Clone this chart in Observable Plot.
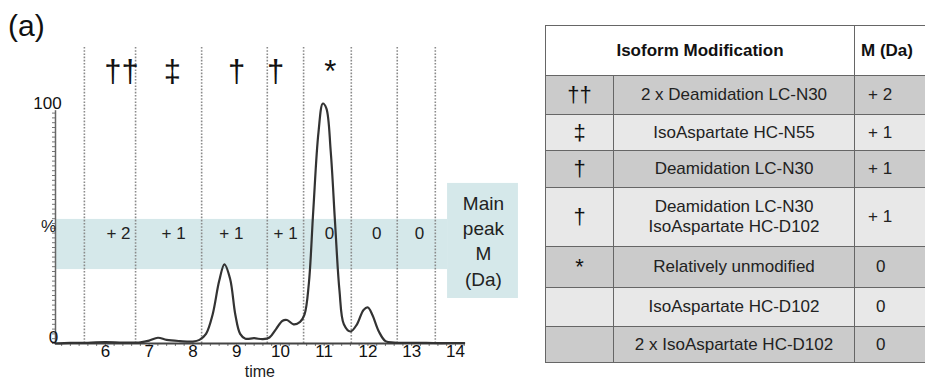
<!DOCTYPE html>
<html>
<head>
<meta charset="utf-8">
<script src="https://cdn.jsdelivr.net/npm/d3@7"></script>
<script src="https://cdn.jsdelivr.net/npm/@observablehq/plot@0.6"></script>
<style>
  html, body { margin: 0; padding: 0; background: #fff; }
  body { width: 925px; height: 382px; position: relative; overflow: hidden; font-family: "Liberation Sans", Arial, sans-serif; }
  #panel { position: absolute; left: 8px; top: 9px; font-size: 30px; line-height: 34px; color: #111; z-index: 2; }
  #chart { position: absolute; left: 0; top: 0; }
  #tbl { position: absolute; left: 545px; top: 25px; border-collapse: collapse; table-layout: fixed; width: 390px; font-size: 17px; color: #222; }
  #tbl td, #tbl th { border: 1.5px solid #666; padding: 0; text-align: center; vertical-align: middle; line-height: 20px; }
  #tbl th { background: #fff; font-weight: bold; font-size: 17px; color: #111; }
  #tbl tr.dark td { background: #cbcbcb; }
  #tbl tr.light td { background: #e8e8e8; }
  #tbl td.sym { font-size: 22px; color: #111; }
  #tbl td.m { text-align: left; padding-left: 13px; }
  #tbl td.m.zero { padding-left: 21px; }
</style>
</head>
<body>
<div id="panel">(a)</div>
<div id="chart"></div>
<table id="tbl"></table>
<script>
// Chromatogram trace (time in min, relative intensity in %)
const time = [4.86, 5.2, 5.6, 6.0, 6.4, 6.8, 7.0, 7.2, 7.4, 7.7, 8.0, 8.15, 8.3, 8.45, 8.6, 8.72, 8.85, 8.97, 9.08, 9.2, 9.4, 9.6, 9.75, 9.9, 10.05, 10.15, 10.3, 10.45, 10.55, 10.65, 10.75, 10.87, 10.97, 11.05, 11.15, 11.25, 11.35, 11.45, 11.6, 11.75, 11.9, 12.0, 12.1, 12.25, 12.4, 12.6, 13.0, 13.5, 14.0, 14.2];
const intensity = [0, 0.3, 0.3, 0.6, 0.4, 0.5, 1.2, 2.4, 1.5, 1.0, 0.8, 1.5, 4, 12, 26, 33, 27, 12, 4, 2, 2.2, 1.8, 2.5, 6, 9.5, 9.8, 8, 9, 12, 25, 55, 88, 100, 98, 80, 50, 22, 8, 5, 8, 14, 15, 12, 5, 1, 0.4, 0.3, 0.2, 0.2, 0.2];

// Fraction boundaries (dotted lines)
const boundaries = [5.52, 6.69, 8.2, 9.7, 10.53, 11.62, 12.67, 13.54];

// Peak symbols above the trace
const peakSymbols = ["††", "‡", "†", "†", "*"];
const symbolTimes = [6.37, 7.53, 9.0, 9.89, 11.14];

// Main peak mass shift per fraction
const massLabels = ["+ 2", "+ 1", "+ 1", "+ 1", "0", "0", "0"];
const massTimes = [6.3, 7.56, 8.88, 10.12, 11.12, 12.2, 13.18];

// Axis ticks
const xTicks = [6, 7, 8, 9, 10, 11, 12, 13, 14];

// Table
const tableSymbols = ["††", "‡", "†", "†", "*", "", ""];
const tableMods = ["2 x Deamidation LC-N30", "IsoAspartate HC-N55", "Deamidation LC-N30", "Deamidation LC-N30\nIsoAspartate HC-D102", "Relatively unmodified", "IsoAspartate HC-D102", "2 x IsoAspartate HC-D102"];
const tableMass = ["+ 2", "+ 1", "+ 1", "+ 1", "0", "0", "0"];

const trace = time.map((t, i) => ({t, v: intensity[i]}));
const symData = peakSymbols.map((s, i) => ({s, t: symbolTimes[i]}));
const massData = massLabels.map((s, i) => ({s, t: massTimes[i]}));

const X0 = 4.86, X1 = 14.23;
const band = "#d5e8ea";

const chart = Plot.plot({
  width: 530,
  height: 382,
  marginLeft: 55,
  marginRight: 65,
  marginTop: 103,
  marginBottom: 39,
  x: {domain: [X0, X1]},
  y: {domain: [0, 100]},
  style: {fontFamily: "Liberation Sans, Arial, sans-serif", overflow: "visible", background: "transparent", color: "#222"},
  marks: [
    Plot.rect([0], {x1: X0, x2: 13.82, y1: 30.8, y2: 51.7, fill: band}),
    Plot.rect([0], {x1: 13.82, x2: 15.44, y1: 18.75, y2: 66.7, fill: band}),
    Plot.text([0], {x: 14.64, y: 43.3, text: () => "Main\npeak\nM\n(Da)", fontSize: 19, lineHeight: 1.33, fill: "#222"}),
    Plot.ruleX(boundaries, {x: d => d, y1: 0, y2: 124, stroke: "#8a8a8a", strokeWidth: 1.6, strokeDasharray: "1.6,1.6"}),
    Plot.axisY({ticks: d3.range(0, 98, 2), tickSize: 3, tickFormat: () => "", label: null, stroke: "#777"}),
    Plot.ruleX([X0], {y1: 0, y2: 97, stroke: "#666", strokeWidth: 1.5}),
    Plot.axisX({ticks: d3.range(25, 72).map(i => i / 5), tickSize: 3, tickFormat: () => "", label: null, stroke: "#777"}),
    Plot.axisX({ticks: xTicks, tickSize: 0, tickPadding: 1, fontSize: 17, label: null, fill: "#111"}),
    Plot.ruleY([0], {x1: X0, x2: X1, stroke: "#444", strokeWidth: 2}),
    Plot.line(trace, {x: "t", y: "v", curve: "catmull-rom", stroke: "#333", strokeWidth: 2.2}),
    Plot.text(symData, {x: "t", y: 112.9, text: "s", fontSize: 31, fill: "#111"}),
    Plot.text(massData, {x: "t", y: 45.8, text: "s", fontSize: 17, fill: "#222"}),
    Plot.text([0], {x: X0, y: 100, text: () => "100", fontSize: 17, dx: -8, fill: "#111"}),
    Plot.text([0], {x: X0, y: 2.5, text: () => "0", fontSize: 17, dx: -2, fill: "#111"}),
    Plot.text([0], {x: X0, y: 48.75, text: () => "%", fontSize: 17, dx: -7, fill: "#222"}),
    Plot.text([0], {x: 9.53, y: -12, text: () => "time", fontSize: 16, fill: "#222"})
  ]
});
document.getElementById("chart").appendChild(chart);

// Build table
const tbl = document.getElementById("tbl");
const cg = document.createElement("colgroup");
[68, 241, 81].forEach(w => { const c = document.createElement("col"); c.style.width = w + "px"; cg.appendChild(c); });
tbl.appendChild(cg);
const hr = document.createElement("tr");
hr.style.height = "50px";
const h1 = document.createElement("th"); h1.colSpan = 2; h1.textContent = "Isoform Modification";
const h2 = document.createElement("th"); h2.textContent = "M (Da)"; h2.style.textAlign = "left"; h2.style.paddingLeft = "6px";
hr.appendChild(h1); hr.appendChild(h2); tbl.appendChild(hr);
const rowHeights = [39, 36, 37, 59, 41, 39, 36];
tableMods.forEach((m, i) => {
  const tr = document.createElement("tr");
  tr.className = i % 2 === 0 ? "dark" : "light";
  tr.style.height = rowHeights[i] + "px";
  const a = document.createElement("td"); a.className = "sym"; a.textContent = tableSymbols[i];
  const b = document.createElement("td"); b.innerHTML = m.split("\n").join("<br>");
  const c = document.createElement("td"); c.className = "m" + (tableMass[i] === "0" ? " zero" : ""); c.textContent = tableMass[i];
  tr.appendChild(a); tr.appendChild(b); tr.appendChild(c);
  tbl.appendChild(tr);
});
</script>
</body>
</html>
